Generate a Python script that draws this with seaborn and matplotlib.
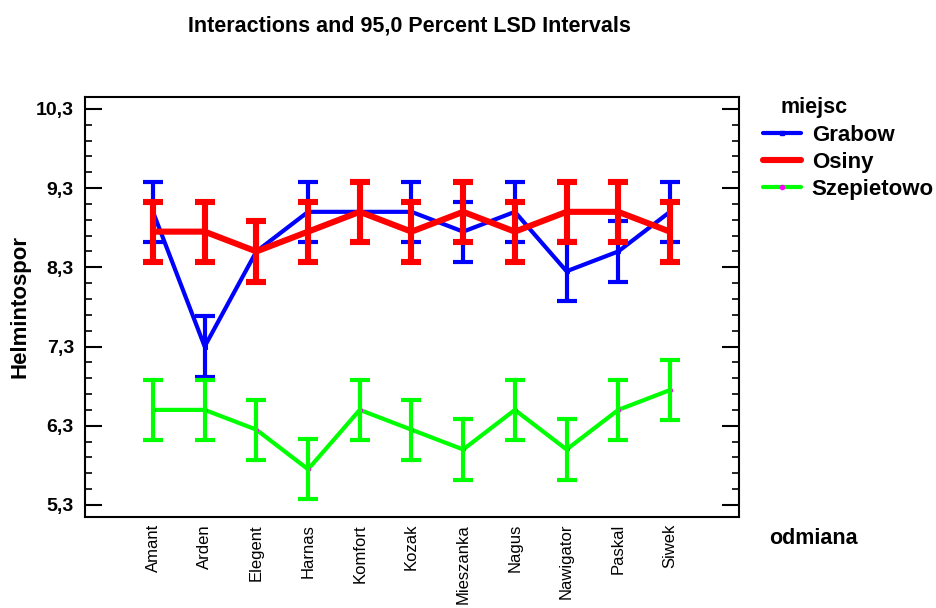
import matplotlib
matplotlib.use("Agg")
import matplotlib.pyplot as plt
from matplotlib.lines import Line2D
import numpy as np
import pandas as pd
import seaborn as sns

# Cultivars on the x axis
odmiana = ["Amant", "Arden", "Elegent", "Harnas", "Komfort", "Kozak",
           "Mieszanka", "Nagus", "Nawigator", "Paskal", "Siwek"]

# Mean Helmintospor score for each location
grabow = [9.0, 7.3, 8.5, 9.0, 9.0, 9.0, 8.75, 9.0, 8.25, 8.5, 9.0]
osiny = [8.75, 8.75, 8.5, 8.75, 9.0, 8.75, 9.0, 8.75, 9.0, 9.0, 8.75]
szepietowo = [6.5, 6.5, 6.25, 5.75, 6.5, 6.25, 6.0, 6.5, 6.0, 6.5, 6.75]

# Half width of the 95% LSD interval
lsd_half = 0.38

y_ticks = [5.3, 6.3, 7.3, 8.3, 9.3, 10.3]
y_tick_labels = ["5,3", "6,3", "7,3", "8,3", "9,3", "10,3"]

series = [
    ("Grabow", grabow, "#0000ff", 3.0, "s", "#0000ff"),
    ("Osiny", osiny, "#ff0000", 4.4, "x", "#ff0000"),
    ("Szepietowo", szepietowo, "#00ff00", 3.0, "o", "#ff00ff"),
]

sns.set_theme(style="white")
plt.rcParams["font.family"] = ["Liberation Sans", "DejaVu Sans"]
for key in ("text.color", "axes.labelcolor", "xtick.color", "ytick.color"):
    plt.rcParams[key] = "black"

fig = plt.figure(figsize=(9.36, 6.08), dpi=100)
ax = fig.add_axes([0.0908, 0.1497, 0.6987, 0.6908])

pos = np.arange(len(odmiana))
for name, vals, color, lw, mk, mcol in series:
    df = pd.DataFrame({"pos": pos, "value": vals})
    sns.lineplot(data=df, x="pos", y="value", color=color, linewidth=lw,
                 ax=ax, legend=False, marker=mk, markersize=3,
                 markerfacecolor=mcol, markeredgecolor=mcol)
    ax.errorbar(pos, vals, yerr=lsd_half, fmt="none", ecolor=color,
                elinewidth=lw, capsize=7, capthick=lw)

ax.set_xlim(-1.315, len(odmiana) - 1 + 1.335)
ax.set_ylim(5.148, 10.45)
ax.set_xticks(pos)
ax.set_xticklabels(odmiana, rotation=90, fontsize=12, va="top")
ax.set_yticks(y_ticks)
ax.set_yticklabels(y_tick_labels, fontsize=14, fontweight="bold")
ax.set_yticks(np.arange(5.3, 10.31, 0.2), minor=True)
ax.tick_params(axis="x", length=0, pad=5)
ax.tick_params(axis="y", which="major", direction="in", length=12, width=1.5,
               left=True, right=True, pad=8, color="black")
ax.tick_params(axis="y", which="minor", direction="in", length=5, width=1.2,
               left=True, right=True, color="black")
for sp in ax.spines.values():
    sp.set_color("black")
    sp.set_linewidth(1.5)

ax.set_xlabel("")
ax.set_ylabel("Helmintospor", fontsize=16, fontweight="bold")
ax.yaxis.set_label_coords(-0.083, 0.5)

fig.text(0.437, 0.958, "Interactions and 95,0 Percent LSD Intervals",
         ha="center", va="center", fontsize=15.5, fontweight="bold")
fig.text(0.869, 0.115, "odmiana", ha="center", va="center",
         fontsize=15.5, fontweight="bold")
fig.text(0.834, 0.824, "miejsc", ha="left", va="center",
         fontsize=15.5, fontweight="bold")

handles = [Line2D([0], [0], color=c, linewidth=lw, marker=mk, markersize=3,
                  markerfacecolor=mc, markeredgecolor=mc)
           for _, _, c, lw, mk, mc in series]
labels = [s[0] for s in series]
leg = fig.legend(handles, labels, loc="upper left",
                 bbox_to_anchor=(0.815, 0.795), frameon=False,
                 prop={"size": 16, "weight": "bold"}, handlelength=1.7,
                 handletextpad=0.5, labelspacing=0.28, borderaxespad=0,
                 borderpad=0)

fig.savefig("out.png", dpi=100, facecolor="white")
